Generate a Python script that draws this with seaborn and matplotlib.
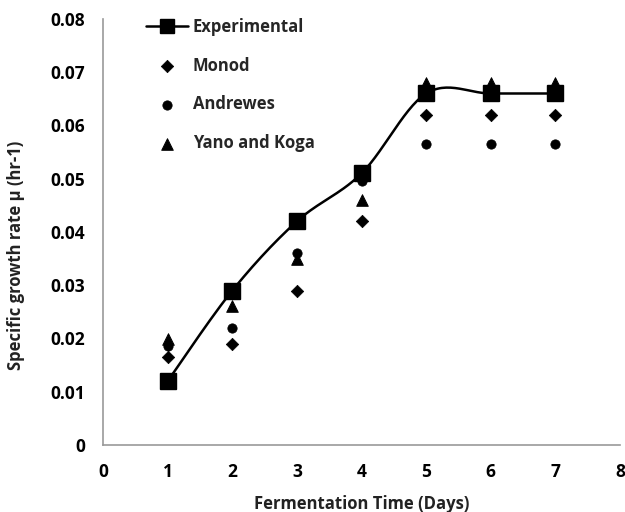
import numpy as np
import pandas as pd
import seaborn as sns
import matplotlib.pyplot as plt

days = [1, 2, 3, 4, 5, 6, 7]
experimental = [0.012, 0.029, 0.042, 0.051, 0.066, 0.066, 0.066]
monod = [0.0165, 0.019, 0.029, 0.042, 0.062, 0.062, 0.062]
andrewes = [0.0185, 0.022, 0.036, 0.0495, 0.0565, 0.0565, 0.0565]
yano_koga = [0.0198, 0.026, 0.035, 0.046, 0.068, 0.068, 0.068]


def smooth(x, y, n=30):
    # Excel-style smoothed line (cardinal Bezier through the points)
    x = np.asarray(x, float)
    y = np.asarray(y, float)
    px = np.concatenate([[x[0]], x, [x[-1]]])
    py = np.concatenate([[y[0]], y, [y[-1]]])
    xs, ys = [], []
    t = np.linspace(0, 1, n)
    for i in range(1, len(px) - 2):
        p0 = np.array([px[i], py[i]])
        p3 = np.array([px[i + 1], py[i + 1]])
        p1 = p0 + (np.array([px[i + 1], py[i + 1]]) - np.array([px[i - 1], py[i - 1]])) / 6
        p2 = p3 - (np.array([px[i + 2], py[i + 2]]) - np.array([px[i], py[i]])) / 6
        b = ((1 - t) ** 3)[:, None] * p0 + (3 * (1 - t) ** 2 * t)[:, None] * p1 \
            + (3 * (1 - t) * t ** 2)[:, None] * p2 + (t ** 3)[:, None] * p3
        xs.extend(b[:, 0])
        ys.extend(b[:, 1])
    return xs, ys


sns.set_theme(style="white")
plt.rcParams['font.family'] = ['Open Sans', 'DejaVu Sans']

fig = plt.figure(figsize=(6.25, 5.12), dpi=100)
ax = fig.add_axes([0.165, 0.131, 0.827, 0.832])

df = pd.DataFrame({"day": days, "Monod": monod, "Andrewes": andrewes,
                   "Yano and Koga": yano_koga})

sx, sy = smooth(days, experimental)
ax.plot(sx, sy, color="black", lw=1.8, zorder=2)
ax.plot(days, experimental, ls="none", marker="s", ms=11, color="black",
        zorder=3)
ax.plot([], [], color="black", lw=1.8, marker="s", ms=10.5, label="Experimental")

sns.scatterplot(data=df, x="day", y="Monod", marker="D", s=40, color="black",
                edgecolor="black", ax=ax, label="Monod", zorder=2)
sns.scatterplot(data=df, x="day", y="Andrewes", marker="o", s=45, color="black",
                edgecolor="black", ax=ax, label="Andrewes", zorder=2)
sns.scatterplot(data=df, x="day", y="Yano and Koga", marker="^", s=70,
                color="black", edgecolor="black", ax=ax, label="Yano and Koga",
                zorder=2)

ax.set_xlim(0, 8)
ax.set_ylim(0, 0.08)
ax.set_xticks(range(0, 9))
ax.set_yticks(np.arange(0, 0.081, 0.01))
ax.set_yticklabels(["0"] + [f"{v:.2f}" for v in np.arange(0.01, 0.081, 0.01)])
ax.set_xlabel("Fermentation Time (Days)", fontsize=12, fontweight="bold",
              color="#222222")
ax.set_ylabel("Specific growth rate \u03bc (hr-1)", fontsize=12,
              fontweight="bold", color="#222222")
ax.yaxis.set_label_coords(-0.151, 0.444)
ax.xaxis.set_label_coords(0.5, -0.118)

for s in ["top", "right"]:
    ax.spines[s].set_visible(False)
for s in ["left", "bottom"]:
    ax.spines[s].set_color("#999999")
    ax.spines[s].set_linewidth(1.2)
ax.tick_params(axis="both", direction="out", length=5, width=1,
               color="#999999", labelsize=12.5, labelcolor="black", pad=8)
for lab in ax.get_xticklabels() + ax.get_yticklabels():
    lab.set_fontweight("bold")

leg = ax.legend(loc="upper left", bbox_to_anchor=(0.054, 1.038), frameon=False,
                fontsize=12, labelspacing=1.25, handlelength=2.5,
                handletextpad=0.3)
for t in leg.get_texts():
    t.set_fontweight("bold")

fig.savefig("out.png", dpi=100)
